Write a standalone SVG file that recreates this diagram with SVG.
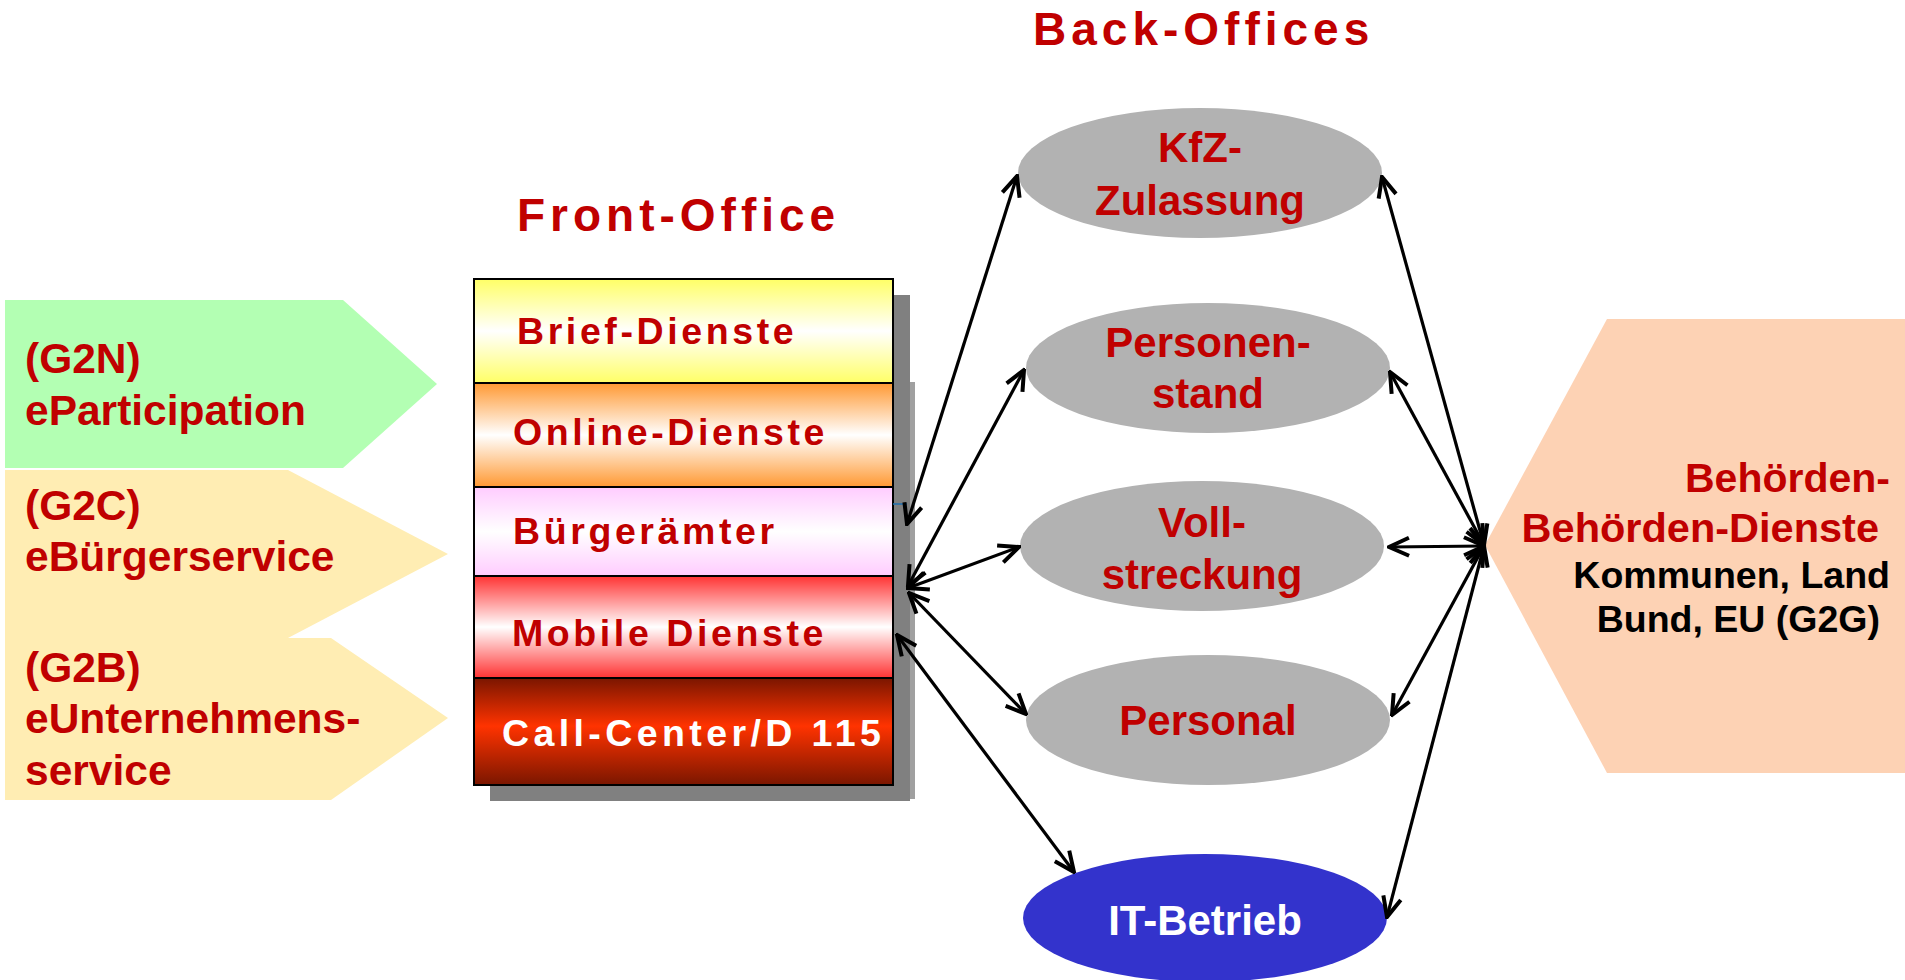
<svg xmlns="http://www.w3.org/2000/svg" width="1905" height="980" viewBox="0 0 1905 980">
<defs>
<style>
.t{font-family:"Liberation Sans",Arial,Helvetica,sans-serif;font-weight:bold}
.red{fill:#C00000}
.title{font-size:46px;letter-spacing:5px}
.lbl{font-size:42.5px}
.box{font-size:37.5px;letter-spacing:3.6px}
.ell{font-size:42px;text-anchor:middle}
.band{stroke:#000;stroke-width:2}
.grey{fill:#B2B2B2}
.con{stroke:#000;stroke-width:3.2;fill:none;marker-start:url(#ah);marker-end:url(#ah)}
</style>
<marker id="ah" viewBox="0 0 24 24" refX="22" refY="12" markerWidth="24" markerHeight="24" markerUnits="userSpaceOnUse" orient="auto-start-reverse">
<path d="M2,3 L22,12 L2,21" fill="none" stroke="#000" stroke-width="4" stroke-linejoin="miter"/>
</marker>
<linearGradient id="gBrief" x1="0" y1="0" x2="0" y2="1">
<stop offset="0" stop-color="#FFFF66"/><stop offset="0.5" stop-color="#FFFFFF"/><stop offset="1" stop-color="#FFFF66"/>
</linearGradient>
<linearGradient id="gOnline" x1="0" y1="0" x2="0" y2="1">
<stop offset="0" stop-color="#FF9933"/><stop offset="0.5" stop-color="#FFFFFF"/><stop offset="1" stop-color="#FF9933"/>
</linearGradient>
<linearGradient id="gBuerger" x1="0" y1="0" x2="0" y2="1">
<stop offset="0" stop-color="#FFCCFF"/><stop offset="0.5" stop-color="#FFFFFF"/><stop offset="1" stop-color="#FFCCFF"/>
</linearGradient>
<linearGradient id="gMobile" x1="0" y1="0" x2="0" y2="1">
<stop offset="0" stop-color="#FF3333"/><stop offset="0.5" stop-color="#FFFFFF"/><stop offset="1" stop-color="#FF3333"/>
</linearGradient>
<linearGradient id="gCall" x1="0" y1="0" x2="0" y2="1">
<stop offset="0" stop-color="#7A1600"/><stop offset="0.45" stop-color="#FF3300"/><stop offset="1" stop-color="#7A1600"/>
</linearGradient>
</defs>
<rect width="1905" height="980" fill="#FFFFFF"/>

<g id="title-back-offices"><text class="t red title" x="1033" y="45">Back-Offices</text></g>
<g id="title-front-office"><text class="t red title" x="517" y="231">Front-Office</text></g>

<g id="g2n">
<polygon points="5,300 343,300 437,384 343,468 5,468" fill="#B3FFB3"/>
<text class="t red lbl" x="25" y="373">(G2N)</text>
<text class="t red lbl" x="25" y="425">eParticipation</text>
</g>
<g id="g2c">
<polygon points="5,470 288,470 448,554 288,638 5,638" fill="#FFEDB3"/>
<text class="t red lbl" x="25" y="520">(G2C)</text>
<text class="t red lbl" x="25" y="571">eBürgerservice</text>
</g>
<g id="g2b">
<polygon points="5,638 331,638 448,718 331,800 5,800" fill="#FFEDB3"/>
<text class="t red lbl" x="25" y="682">(G2B)</text>
<text class="t red lbl" x="25" y="733">eUnternehmens-</text>
<text class="t red lbl" x="25" y="785">service</text>
</g>

<g id="front-office">
<rect x="490" y="295" width="420" height="506" fill="#808080"/>
<rect x="910" y="382" width="5" height="417" fill="#A0A0A0"/>
<g id="brief-dienste">
<rect class="band" x="474" y="279" width="419" height="104" fill="url(#gBrief)"/>
<text class="t red box" x="517" y="344">Brief-Dienste</text>
</g>
<g id="online-dienste">
<rect class="band" x="474" y="383" width="419" height="104" fill="url(#gOnline)"/>
<text class="t red box" x="513" y="445">Online-Dienste</text>
</g>
<g id="buergeraemter">
<rect class="band" x="474" y="487" width="419" height="89" fill="url(#gBuerger)"/>
<text class="t red box" x="513" y="544">Bürgerämter</text>
</g>
<g id="mobile-dienste">
<rect class="band" x="474" y="576" width="419" height="102" fill="url(#gMobile)"/>
<text class="t red box" x="512" y="646">Mobile Dienste</text>
</g>
<g id="call-center">
<rect class="band" x="474" y="678" width="419" height="107" fill="url(#gCall)"/>
<text class="t box" x="502" y="746" fill="#FFFFFF" style="letter-spacing:4.4px">Call-Center/D 115</text>
</g>
</g>

<g id="kfz">
<ellipse class="grey" cx="1200" cy="173" rx="182" ry="65"/>
<text class="t red ell" x="1200" y="162">KfZ-</text>
<text class="t red ell" x="1200" y="215">Zulassung</text>
</g>
<g id="personenstand">
<ellipse class="grey" cx="1208" cy="368" rx="182" ry="65"/>
<text class="t red ell" x="1208" y="357">Personen-</text>
<text class="t red ell" x="1208" y="408">stand</text>
</g>
<g id="vollstreckung">
<ellipse class="grey" cx="1202" cy="546" rx="182" ry="65"/>
<text class="t red ell" x="1202" y="537">Voll-</text>
<text class="t red ell" x="1202" y="589">streckung</text>
</g>
<g id="personal">
<ellipse class="grey" cx="1208" cy="720" rx="182" ry="65"/>
<text class="t red ell" x="1208" y="735">Personal</text>
</g>
<g id="it-betrieb">
<ellipse cx="1205" cy="918" rx="182" ry="64" fill="#3333CC"/>
<text class="t ell" x="1205" y="935" fill="#FFFFFF">IT-Betrieb</text>
</g>

<g id="g2g">
<polygon points="1607,319 1905,319 1905,773 1607,773 1485,545" fill="#FDD2B4"/>
<text class="t red" x="1890" y="492" font-size="41" text-anchor="end">Behörden-</text>
<text class="t red" x="1879" y="542" font-size="41.5" text-anchor="end">Behörden-Dienste</text>
<text class="t" x="1890" y="588" font-size="37.5" text-anchor="end" fill="#000">Kommunen, Land</text>
<text class="t" x="1880" y="632" font-size="37.5" text-anchor="end" fill="#000">Bund, EU (G2G)</text>
</g>

<g id="connectors">
<line x1="893" y1="504" x2="907" y2="504" stroke="#1F6FB0" stroke-width="1.5"/>
<line class="con" x1="907" y1="524" x2="1017" y2="176"/>
<line class="con" x1="908" y1="586" x2="1024" y2="370"/>
<line class="con" x1="908" y1="588" x2="1019" y2="547"/>
<line class="con" x1="909" y1="593" x2="1026" y2="714"/>
<line class="con" x1="897" y1="635" x2="1074" y2="872"/>
<line class="con" x1="1382" y1="177" x2="1484" y2="545"/>
<line class="con" x1="1390" y1="372" x2="1484" y2="545"/>
<line class="con" x1="1389" y1="547" x2="1484" y2="546"/>
<line class="con" x1="1392" y1="715" x2="1484" y2="546"/>
<line class="con" x1="1387" y1="917" x2="1484" y2="546"/>
</g>
</svg>
